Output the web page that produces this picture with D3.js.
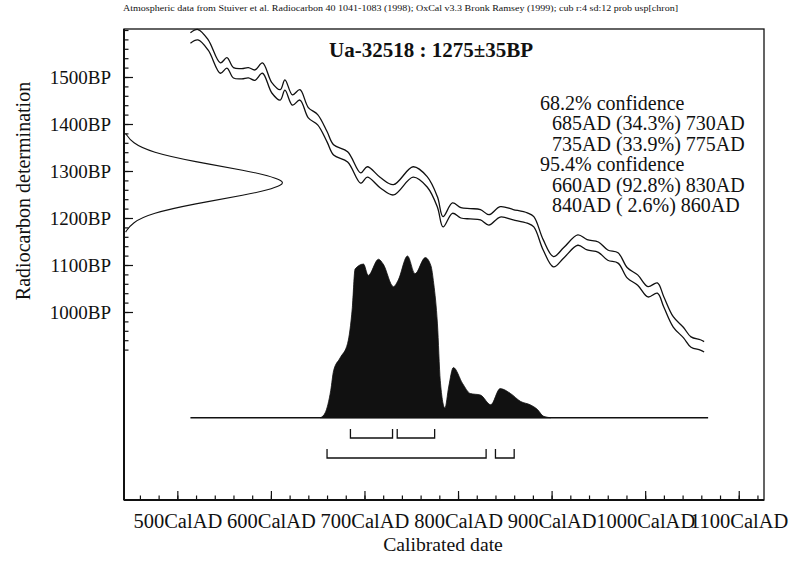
<!DOCTYPE html>
<html><head><meta charset="utf-8">
<script src="https://cdnjs.cloudflare.com/ajax/libs/d3/7.8.5/d3.min.js"></script>
<style>
html,body{margin:0;padding:0;background:#fff;}
text{font-family:"Liberation Serif","Times New Roman",serif;fill:#111;}
</style></head>
<body>
<script>
// ---------- data ----------
const headerText = "Atmospheric data from Stuiver et al. Radiocarbon 40 1041-1083 (1998); OxCal v3.3 Bronk Ramsey (1999); cub r:4 sd:12 prob usp[chron]";
const titleText = "Ua-32518 : 1275\u00b135BP";
// calibration curve (mid values) cal AD / BP
const curveAD = [514,522,533,546,553,560,569,576,583,591,601,610,615,623,631,640,650,660,667,682,696,703,717,731,752,767,778,784,794,803,813,824,833,845,859,874,881,891,902,913,928,938,950,960,971,981,992,1003,1013,1020,1030,1041,1049,1059,1063];
const curveBP = [1583,1590,1568,1519,1530,1509,1507,1509,1504,1519,1477,1462,1483,1451,1462,1424,1409,1373,1345,1330,1285,1298,1275,1260,1298,1277,1234,1192,1221,1211,1209,1207,1196,1213,1207,1200,1192,1143,1107,1126,1153,1143,1138,1121,1115,1083,1068,1043,1051,1021,979,956,936,930,926];
const curveSigma = 11;
// radiocarbon determination distribution
const dateBP = [1380,1360,1340,1320,1300,1290,1280,1275,1270,1260,1250,1230,1210,1190,1170];
const dateDens = [0.01,0.05,0.17,0.44,0.78,0.91,0.99,1,0.99,0.91,0.78,0.44,0.17,0.05,0.01];
// calibrated probability
const calAD = [653,658,664,667,674,682,687,690,699,704,715,720,731,736,746,754,765,771,774,778,781,786,790,795,805,813,824,835,845,856,867,877,885,891,899];
const calProb = [0,0.03,0.17,0.29,0.37,0.46,0.68,0.92,0.95,0.88,0.98,0.95,0.81,0.85,1.0,0.89,0.99,0.94,0.83,0.58,0.23,0.06,0.19,0.31,0.21,0.15,0.14,0.08,0.18,0.15,0.10,0.08,0.05,0.01,0];
// ranges
const ranges68 = [[685,730],[735,775]];
const pct68 = [34.3,33.9];
const ranges95 = [[660,830],[840,860]];
const pct95 = [92.8,2.6];
// ticks
const xMajor = [500,600,700,800,900,1000,1100];
const xMinor = d3.range(460,1121,20);
const yMajor = [1000,1100,1200,1300,1400,1500];
const yMinor = d3.range(920,1601,20);

// ---------- layout ----------
const W = 789, H = 564;
const L = 124, R = 764, T = 29, B = 500;
const svg = d3.select("body").append("svg").attr("width",W).attr("height",H);

const x = d3.scaleLinear().domain([443,1127]).range([L,R]);
const y = d3.scaleLinear().domain([600,1600]).range([B,30]);
const xd = d3.scaleLinear().domain([0,1]).range([L,283]);
const yp = d3.scaleLinear().domain([0,1]).range([417.7,256]);

// header
svg.append("text").attr("x",123).attr("y",11).attr("font-size",8.5)
  .attr("textLength",555).attr("lengthAdjust","spacingAndGlyphs").text(headerText);

// frame
svg.append("rect").attr("x",L).attr("y",T).attr("width",R-L).attr("height",B-T)
  .attr("fill","none").attr("stroke","#111").attr("stroke-width",1.3);
svg.append("line").attr("x1",L).attr("x2",L).attr("y1",T).attr("y2",B).attr("stroke","#111").attr("stroke-width",2);
svg.append("line").attr("x1",L).attr("x2",R).attr("y1",B).attr("y2",B).attr("stroke","#111").attr("stroke-width",2);

// axes
function styleAxis(g){ g.select(".domain").remove(); g.selectAll("line").attr("stroke","#111").attr("stroke-width",1.2); }
svg.append("g").attr("transform",`translate(${L},0)`)
  .call(d3.axisLeft(y).tickValues(yMinor).tickSize(-4.5).tickFormat("")).call(styleAxis);
svg.append("g").attr("transform",`translate(${L},0)`)
  .call(d3.axisLeft(y).tickValues(yMajor).tickSize(-9).tickPadding(13).tickFormat(d=>d+"BP"))
  .call(styleAxis).selectAll("text").attr("font-size",19).attr("fill","#111");
svg.append("g").attr("transform",`translate(0,${B})`)
  .call(d3.axisBottom(x).tickValues(xMinor).tickSize(-4.5).tickFormat("")).call(styleAxis);
svg.append("g").attr("transform",`translate(0,${B})`)
  .call(d3.axisBottom(x).tickValues(xMajor).tickSize(-9).tickPadding(13.5).tickFormat(d=>d+"CalAD"))
  .call(styleAxis).selectAll("text").attr("font-size",20.5).attr("fill","#111");

// axis titles
svg.append("text").attr("transform","translate(30,191) rotate(-90)").attr("text-anchor","middle")
  .attr("font-size",20).text("Radiocarbon determination");
svg.append("text").attr("x",443).attr("y",551).attr("text-anchor","middle")
  .attr("font-size",19.7).text("Calibrated date");

// title
svg.append("text").attr("x",431).attr("y",57).attr("text-anchor","middle")
  .attr("font-size",21).attr("font-weight","bold").text(titleText);

// calibration curve envelope
const curve = curveAD.map((d,i)=>({ad:d,bp:curveBP[i]}));
[curveSigma,-curveSigma].forEach(s=>{
  svg.append("path").datum(curve)
    .attr("d",d3.line().x(d=>x(d.ad)).y(d=>y(d.bp+s)).curve(d3.curveCatmullRom.alpha(0.5)))
    .attr("fill","none").attr("stroke","#111").attr("stroke-width",1.3);
});

// radiocarbon determination distribution
const dens = dateBP.map((d,i)=>({bp:d,v:dateDens[i]}));
svg.append("path").datum(dens)
  .attr("d",d3.line().x(d=>xd(d.v)).y(d=>y(d.bp)).curve(d3.curveBasis))
  .attr("fill","none").attr("stroke","#111").attr("stroke-width",1.1);

// calibrated distribution
const ext = d3.extent(curveAD);
svg.append("line").attr("x1",x(ext[0])).attr("x2",x(ext[1])+4).attr("y1",yp(0)).attr("y2",yp(0))
  .attr("stroke","#111").attr("stroke-width",1.4);
const cal = calAD.map((d,i)=>({ad:d,p:calProb[i]}));
svg.append("path").datum(cal)
  .attr("d",d3.area().x(d=>x(d.ad)).y0(yp(0)).y1(d=>yp(d.p)).curve(d3.curveMonotoneX))
  .attr("fill","#111").attr("stroke","#111").attr("stroke-width",0.8);

// range bars
function bars(ranges,yy){
  ranges.forEach(r=>{
    svg.append("path").attr("d",`M${x(r[0])},${yy-9}V${yy}H${x(r[1])}V${yy-9}`)
      .attr("fill","none").attr("stroke","#111").attr("stroke-width",1.3);
  });
}
bars(ranges68,438);
bars(ranges95,458);

// legend text
const lines = [];
lines.push({t:"68.2% confidence",ind:false});
ranges68.forEach((r,i)=>lines.push({t:`${r[0]}AD (${String(pct68[i]).padStart(4,"\u00a0")}%) ${r[1]}AD`,ind:true}));
lines.push({t:"95.4% confidence",ind:false});
ranges95.forEach((r,i)=>lines.push({t:`${r[0]}AD (${String(pct95[i]).padStart(4,"\u00a0")}%) ${r[1]}AD`,ind:true}));
svg.append("g").selectAll("text").data(lines).join("text")
  .attr("x",d=>d.ind?552:540).attr("y",(d,i)=>110+i*20.4)
  .attr("font-size",20).text(d=>d.t);
</script>
</body></html>
